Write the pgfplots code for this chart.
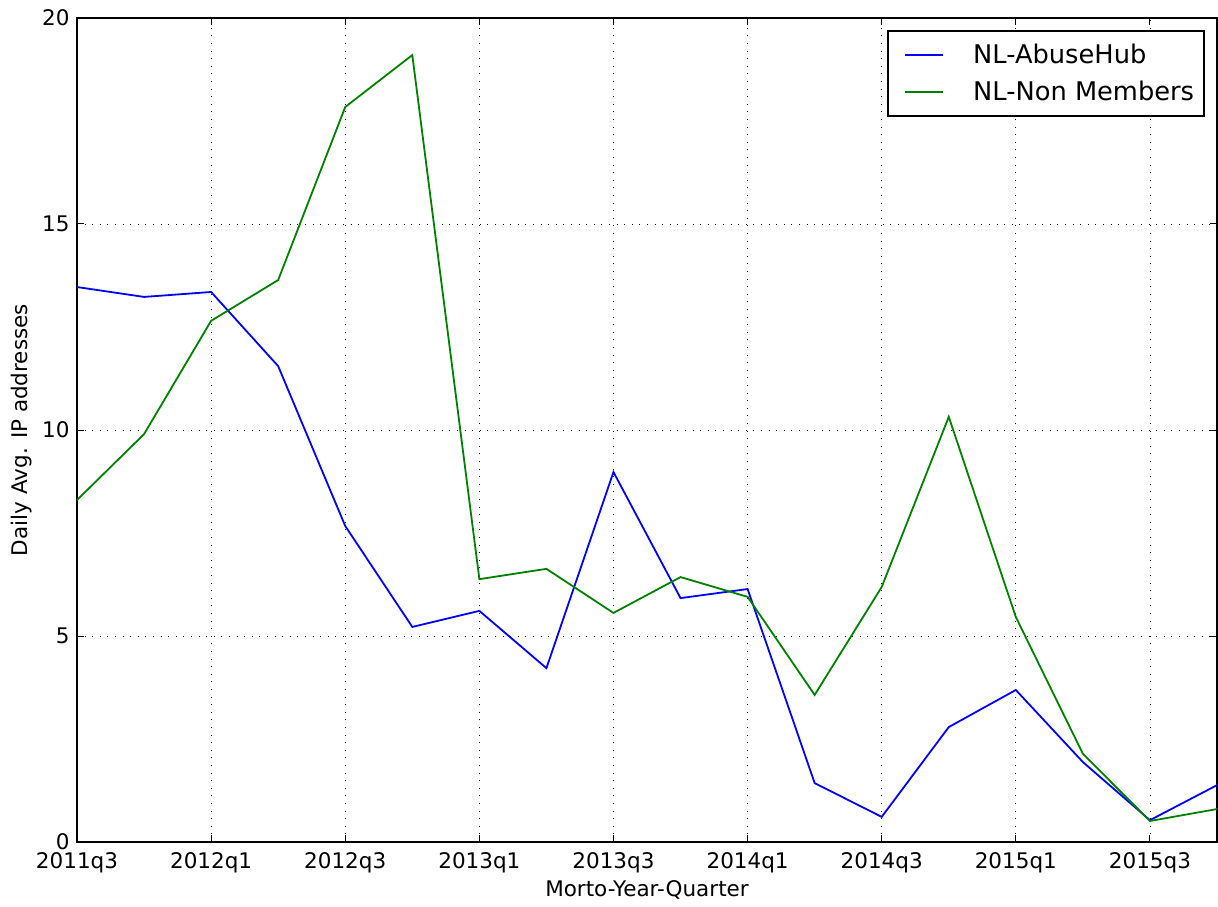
\documentclass[border=0pt]{standalone}
\usepackage{fontspec}
\setmainfont{DejaVu Sans}
\usepackage{pgfplots}
\pgfplotsset{compat=1.18}
\definecolor{mplblue}{rgb}{0,0,1}
\definecolor{mplgreen}{rgb}{0,0.5,0}
\begin{document}
\begin{tikzpicture}
\useasboundingbox (-38.5pt,-32pt) rectangle (570.5pt,421pt);
\begin{axis}[
  scale only axis,
  width=570pt, height=412pt,
  xmin=0, xmax=17, ymin=0, ymax=20,
  xtick={0,2,4,6,8,10,12,14,16},
  xticklabels={2011q3,2012q1,2012q3,2013q1,2013q3,2014q1,2014q3,2015q1,2015q3},
  ytick={0,5,10,15,20},
  /pgf/number format/assume math mode=true,
  tick align=inside,
  major tick length=3.6pt,
  tick style={black, line width=0.5pt},
  axis line style={line width=0.9pt},
  grid=major,
  major grid style={black, line width=0.45pt, dash pattern=on 0.5pt off 3.3pt},
  ticklabel style={font=\fontsize{10.75}{12}\selectfont},
  xticklabel style={anchor=base, yshift=-13pt, inner sep=0pt},
  yticklabel style={anchor=east, inner sep=0pt, xshift=-3.5pt},
  label style={font=\fontsize{10.75}{12}\selectfont},
  xlabel={Morto-Year-Quarter},
  xlabel style={at={(axis description cs:0.5,-0.0667)}, anchor=base, inner sep=0pt},
  ylabel={Daily Avg. IP addresses},
  ylabel style={at={(axis description cs:-0.049,0.5)}, anchor=center, inner sep=0pt},
  legend cell align=left,
  legend image code/.code={\path[draw=none,fill=none] (0pt,0pt) -- (37.5pt,0pt); \draw[#1] (3.5pt,0pt) -- (22.5pt,0pt);},
  legend style={at={(1,1)}, anchor=north east, xshift=-6pt, yshift=-6pt,
    draw=black, line width=0.9pt, inner xsep=5pt, inner ysep=4.3pt,
    font=\fontsize{12.85}{15}\selectfont, row sep=3.5pt,
    nodes={inner xsep=0pt}},
]
\addplot[mplblue, line width=0.9pt] coordinates {
(0,13.47) (1,13.23) (2,13.35) (3,11.55) (4,7.67) (5,5.22) (6,5.61) (7,4.22) (8,8.98)
(9,5.92) (10,6.14) (11,1.43) (12,0.61) (13,2.79) (14,3.69) (15,1.94) (16,0.53) (17,1.38)};
\addlegendentry{NL-AbuseHub}
\addplot[mplgreen, line width=0.9pt] coordinates {
(0,8.30) (1,9.90) (2,12.65) (3,13.64) (4,17.84) (5,19.10) (6,6.38) (7,6.63) (8,5.56)
(9,6.43) (10,5.95) (11,3.57) (12,6.19) (13,10.32) (14,5.46) (15,2.14) (16,0.51) (17,0.80)};
\addlegendentry{NL-Non Members}
\end{axis}
\end{tikzpicture}
\end{document}
